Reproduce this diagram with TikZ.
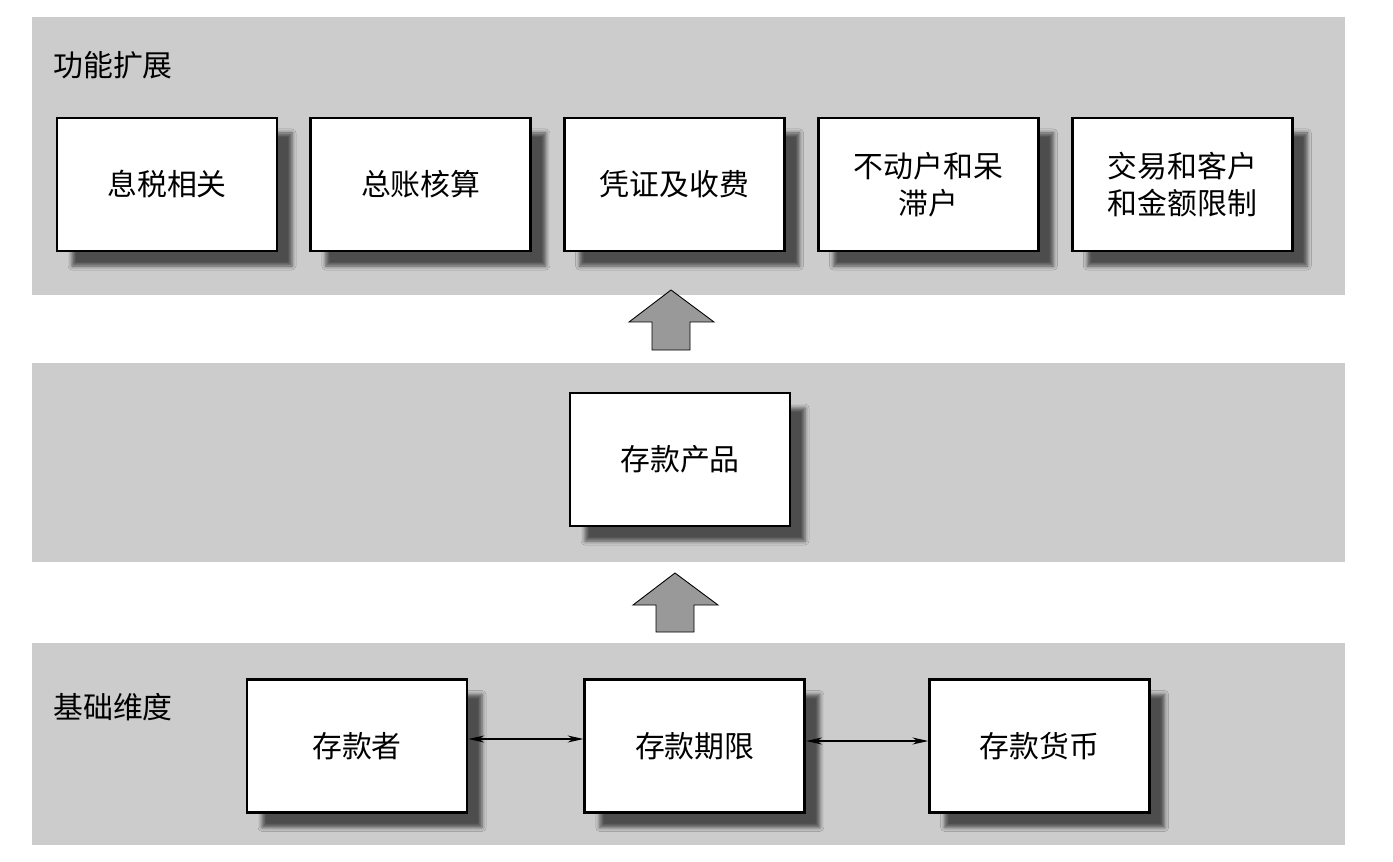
\documentclass[tikz,border=0pt]{standalone}
\usepackage{fontspec}
\newfontfamily\cjk{Noto Sans CJK SC}
\usepackage{tikz}
\usetikzlibrary{positioning, arrows.meta, shadows.blur, calc}
\definecolor{bandgray}{HTML}{CCCCCC}
\definecolor{arrowgray}{HTML}{999999}
\tikzset{
  band/.style  = {fill=bandgray, draw=none},
  mbox/.style  = {draw=black, line width=1.6pt, fill=white,
                  minimum width=4.4cm, minimum height=2.66cm,
                  align=center, inner sep=2pt,
                  font=\cjk\fontsize{17}{21}\selectfont,
                  blur shadow={shadow xshift=0.3cm, shadow yshift=-0.3cm,
                               shadow blur radius=0.08cm, shadow opacity=62}},
  title/.style = {anchor=west, inner sep=0pt,
                  font=\cjk\fontsize{17}{21}\selectfont},
  uparr/.style = {draw=black, line width=0.5pt, fill=arrowgray},
  link/.style  = {{Stealth[length=9pt,width=4pt]}-{Stealth[length=9pt,width=4pt]},
                  line width=0.6pt},
}
\begin{document}
\begin{tikzpicture}
  \useasboundingbox (0,0) rectangle (27.86,-17.24);

  % three horizontal bands
  \fill[band] (0.64,-0.34) rectangle (26.9,-5.9);
  \fill[band] (0.64,-7.26) rectangle (26.9,-11.24);
  \fill[band] (0.64,-12.86) rectangle (26.9,-16.9);

  % top: extensions
  \node[title] (exttitle) at (1.06,-1.3) {功能扩展};
  \node[mbox] (tax) at (3.34,-3.69) {息税相关};
  \node[mbox, right=0.62cm of tax] (ledger) {总账核算};
  \node[mbox, right=0.62cm of ledger] (voucher) {凭证及收费};
  \node[mbox, right=0.62cm of voucher] (dormant) {不动户和呆\\滞户};
  \node[mbox, right=0.62cm of dormant] (limit) {交易和客户\\和金额限制};

  % middle: product
  \node[mbox] (product) at (13.6,-9.19) {存款产品};

  % bottom: base dimensions
  \node[title] (basetitle) at (1.06,-14.14) {基础维度};
  \node[mbox] (depositor) at (7.14,-14.92) {存款者};
  \node[mbox, right=2.3cm of depositor] (term) {存款期限};
  \node[mbox, right=2.44cm of term] (currency) {存款货币};

  \draw[link] ([yshift=0.14cm]depositor.east) -- ([yshift=0.14cm]term.west);
  \draw[link] ([yshift=0.1cm]term.east) -- ([yshift=0.1cm]currency.west);

  % block arrows between bands
  \draw[uparr] (13.42,-5.8) -- (14.28,-6.44) -- (13.8,-6.44) -- (13.8,-7.0)
    -- (13.04,-7.0) -- (13.04,-6.44) -- (12.58,-6.44) -- cycle;
  \draw[uparr] (13.5,-11.46) -- (14.36,-12.1) -- (13.88,-12.1) -- (13.88,-12.64)
    -- (13.12,-12.64) -- (13.12,-12.1) -- (12.66,-12.1) -- cycle;
\end{tikzpicture}
\end{document}
